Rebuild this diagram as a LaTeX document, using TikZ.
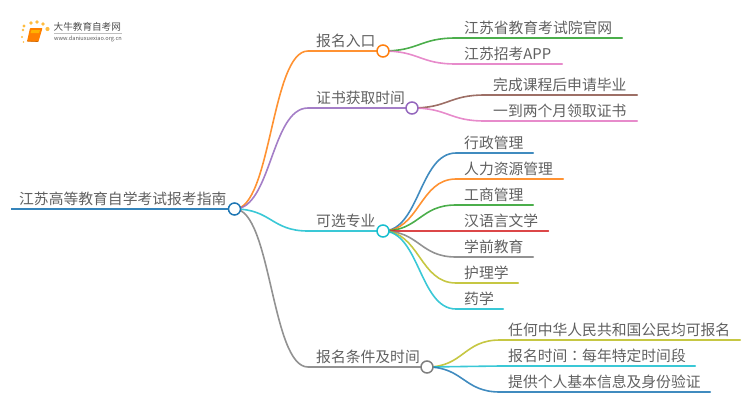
\documentclass[tikz,border=0pt]{standalone}
\usepackage{fontspec}
\usetikzlibrary{calc,backgrounds}
\setmainfont{Noto Sans CJK SC}
\newfontfamily\zhfont{Noto Sans CJK SC}
\newfontfamily\tcfont{Noto Sans CJK TC}
\definecolor{cblue}{HTML}{1F77B4}
\definecolor{corange}{HTML}{FF7F0E}
\definecolor{cgreen}{HTML}{2CA02C}
\definecolor{cred}{HTML}{D62728}
\definecolor{cpurple}{HTML}{9467BD}
\definecolor{cbrown}{HTML}{8C564B}
\definecolor{cpink}{HTML}{E377C2}
\definecolor{cgray}{HTML}{7F7F7F}
\definecolor{colive}{HTML}{BCBD22}
\definecolor{ccyan}{HTML}{17BECF}
\definecolor{txt}{HTML}{606060}
\newcommand{\lab}[1]{\hspace*{8pt}#1}
\tikzset{
  lab/.style={anchor=south west,inner xsep=0pt,inner ysep=1pt,text=txt,align=left,
    font=\fontsize{14.8}{15}\zhfont,text height=13pt,text depth=3pt,text width=#1},
  hub/.style={circle,draw=#1,fill=white,line width=1.5pt,minimum size=12pt,inner sep=0pt},
  wire/.style={draw=#1,draw opacity=.85,line width=1.6pt,line cap=round},
  trunk/.style={draw=#1,draw opacity=.9,line width=2.4pt},
}
\newcommand{\link}[3]{%
  \draw[wire=#1] (#2.center) .. controls ($(#2.center)!.5!(#2.center-|#3.south west)$) and ($(#3.south west)!.5!(#2.center|-#3.south west)$) .. (#3.south west) -- (#3.south east);}
\begin{document}
\begin{tikzpicture}[x=1pt,y=-1pt]
\useasboundingbox (0,0) rectangle (750,410);
% logo
\foreach \px/\py/\pr in {24/26/1.6,31/23/1.9,37/22/1.9,43/24/1.8,47.5/29/2.1,23/30/1.3,22/37/1.1,23.5/42/.9}
  \fill[orange!70!yellow,opacity=.75] (\px,\py) circle (\pr);
\fill[orange,rounded corners=.8pt] (30,28) -- (42.5,28) -- (38.5,41.5) -- (27,41.5) -- cycle;
\fill[orange!60!yellow] (31.5,30) -- (40,30) -- (39,33) -- (30.5,33) -- cycle;
\draw[orange!80!black,line width=.6pt] (27,41) -- (38.5,41.6);
\node[anchor=west,inner sep=0pt,text=black!70,font=\fontsize{9.6}{10}\zhfont] (logoA) at (53.5,27) {大牛教育自考网};
\draw[black!25,line width=.5pt] (54,33.5) -- (122,33.5);
\node[anchor=west,inner sep=0pt,text=black!65,font=\fontsize{5.6}{6}\zhfont] (logoB) at (54,38.8) {www.daniuxuexiao.org.cn};
% nodes
\node[lab=217pt] (root) at (11,209) {\lab{江苏高等教育自学考试报考指南}};
\node[hub=cblue] (hroot) at (234.5,209) {};
\node[lab=69pt] (b1) at (308,51) {\lab{报名入口}};
\node[hub=corange] (h1) at (383,51) {};
\node[lab=98pt] (b2) at (308,108) {\lab{证书获取时间}};
\node[hub=cpurple] (h2) at (412,108) {};
\node[lab=69pt] (b3) at (308,231) {\lab{可选专业}};
\node[hub=ccyan] (h3) at (383,231) {};
\node[lab=113pt] (b4) at (308,367) {\lab{报名条件及时间}};
\node[hub=cgray] (h4) at (427,367) {};
\node[lab=166pt] (a1) at (456,38) {\lab{江苏省教育考试院官网}};
\node[lab=106pt] (a2) at (456,64) {\lab{江苏招考APP}};
\node[lab=152pt] (c1) at (485,95) {\lab{完成课程后申请毕业}};
\node[lab=152pt] (c2) at (485,121) {\lab{一到两个月领取证书}};
\node[lab=77pt] (d1) at (456,153) {\lab{行政管理}};
\node[lab=107pt] (d2) at (456,179) {\lab{人力资源管理}};
\node[lab=77pt] (d3) at (456,205) {\lab{工商管理}};
\node[lab=92pt] (d4) at (456,231) {\lab{汉语言文学}};
\node[lab=77pt] (d5) at (456,257) {\lab{学前教育}};
\node[lab=62pt] (d6) at (456,283) {\lab{护理学}};
\node[lab=47pt] (d7) at (456,309) {\lab{药学}};
\node[lab=240pt] (e1) at (500,340) {\lab{任何中华人民共和国公民均可报名}};
\node[lab=195pt] (e2) at (500,366) {\lab{报名时间{\tcfont ：}每年特定时间段}};
\node[lab=210pt] (e3) at (500,392) {\lab{提供个人基本信息及身份验证}};
% connectors
\begin{scope}[on background layer]
\draw[trunk=cblue] (root.south west) -- (hroot.center);
\link{corange}{hroot}{b1}
\link{cpurple}{hroot}{b2}
\link{ccyan}{hroot}{b3}
\link{cgray}{hroot}{b4}
\link{cgreen}{h1}{a1}
\link{cpink}{h1}{a2}
\link{cbrown}{h2}{c1}
\link{cpink}{h2}{c2}
\link{cblue}{h3}{d1}
\link{corange}{h3}{d2}
\link{cgreen}{h3}{d3}
\link{cred}{h3}{d4}
\link{cgray}{h3}{d5}
\link{colive}{h3}{d6}
\link{ccyan}{h3}{d7}
\link{colive}{h4}{e1}
\link{ccyan}{h4}{e2}
\link{cblue}{h4}{e3}
\end{scope}
\end{tikzpicture}
\end{document}
